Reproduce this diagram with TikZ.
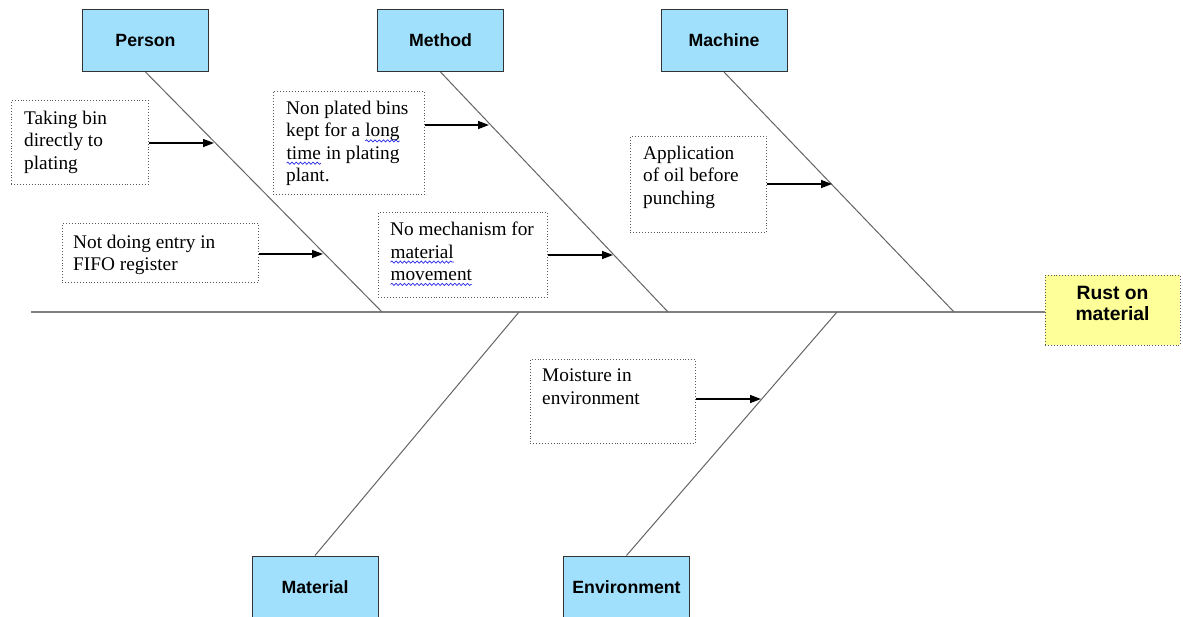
\documentclass[tikz,border=0pt]{standalone}
\usepackage{fontspec}
\setmainfont{Liberation Serif}
\setsansfont{Liberation Sans}
\usetikzlibrary{arrows.meta,calc,decorations.pathmorphing}

\definecolor{catblue}{RGB}{160,224,252}
\definecolor{rustyellow}{RGB}{255,255,153}
\definecolor{bonegray}{RGB}{100,100,100}
\definecolor{spinegray}{RGB}{128,128,128}
\definecolor{squigblue}{RGB}{40,40,230}
\newcommand\sqw[1]{\tikz[baseline=(sqword.base)]{\node[inner sep=0pt,outer sep=0pt] (sqword) {#1};
  \draw[squigblue, line width=0.7pt, decorate, decoration={snake,amplitude=1.1pt,segment length=4.2pt}]
    ([yshift=-4pt]sqword.base west) -- ([yshift=-4pt]sqword.base east);}}

\tikzset{
  catbox/.style={draw=black!80, line width=1pt, fill=catblue, minimum width=126pt,
    minimum height=62pt, inner sep=0pt, font=\sffamily\bfseries\fontsize{17.7}{20}\selectfont},
  causebox/.style={draw=black!65, dotted, line width=0.9pt, anchor=north west, inner sep=0pt},
  causetext/.style={anchor=north west, inner sep=0pt, align=left,
    font=\fontsize{19.3}{22.3}\selectfont},
  bone/.style={draw=bonegray, line width=1pt},
  spineline/.style={draw=spinegray, line width=2.6pt},
  causearrow/.style={draw=black, line width=1.4pt, -{Triangle[length=11pt,width=8pt]}},
}

\begin{document}
\begin{tikzpicture}[x=1pt,y=-1pt]
\useasboundingbox (0,0) rectangle (1183,617);
\fill[white] (0,0) rectangle (1183,617);

% category boxes
\node[catbox] (person) at (145.5,40.5) {Person};
\node[catbox] (method) at (440.5,40.5) {Method};
\node[catbox] (machine) at (724,40.5) {Machine};
\node[catbox] (material) at (315,587) {Material};
\node[catbox] (environment) at (626.5,587) {Environment};

% effect
\node[draw=black!65, dotted, line width=0.9pt, fill=rustyellow, minimum width=135pt,
  minimum height=70pt, inner sep=0pt, align=center, text depth=14pt,
  font=\sffamily\bfseries\fontsize{19.3}{21}\selectfont] (rust) at (1112.5,310) {Rust on\\material};

% spine and junctions
\coordinate (s0) at (31,312);
\coordinate (j1) at (382,312);
\coordinate (j2) at (668,312);
\coordinate (j3) at (954,312);
\coordinate (j4) at (519,312);
\coordinate (j5) at (837,312);
\draw[spineline] (s0) -- (rust.west |- s0);

% bones
\draw[bone] (person.south) -- (j1);
\draw[bone] (method.south) -- (j2);
\draw[bone] (machine.south) -- (j3);
\draw[bone] (material.north) -- (j4);
\draw[bone] (environment.north) -- (j5);

% cause boxes
\node[causebox, minimum width=137pt, minimum height=84pt] (c1) at (11,100) {};
\node[causebox, minimum width=151pt, minimum height=103pt] (c2) at (273,91) {};
\node[causebox, minimum width=196pt, minimum height=59pt] (c3) at (62,223) {};
\node[causebox, minimum width=169pt, minimum height=85pt] (c4) at (378,212) {};
\node[causebox, minimum width=136pt, minimum height=96pt] (c5) at (630,136) {};
\node[causebox, minimum width=165pt, minimum height=84pt] (c6) at (530,359) {};

\node[causetext] (t1) at ([xshift=13pt,yshift=-11pt]c1.north west) {Taking bin\\directly to\\plating};
\node[causetext] (t2) at ([xshift=13pt,yshift=-10pt]c2.north west) {Non plated bins\\kept for a \sqw{long}\\\sqw{time} in plating\\plant.};
\node[causetext] (t3) at ([xshift=11pt,yshift=-12pt]c3.north west) {Not doing entry in\\FIFO register};
\node[causetext] (t4) at ([xshift=12pt,yshift=-10pt]c4.north west) {No mechanism for\\\sqw{material}\\\sqw{movement}};
\node[causetext] (t5) at ([xshift=13pt,yshift=-10pt]c5.north west) {Application\\of oil before\\punching};
\node[causetext] (t6) at ([xshift=12pt,yshift=-10pt]c6.north west) {Moisture in\\environment};

% arrow targets on bones
\coordinate (a1) at (214,143);
\coordinate (a2) at (489,125);
\coordinate (a3) at (323,254);
\coordinate (a4) at (613,255);
\coordinate (a5) at (832,184);
\coordinate (a6) at (761,399);

\draw[causearrow] (c1.east |- a1) -- (a1);
\draw[causearrow] (c2.east |- a2) -- (a2);
\draw[causearrow] (c3.east |- a3) -- (a3);
\draw[causearrow] (c4.east |- a4) -- (a4);
\draw[causearrow] (c5.east |- a5) -- (a5);
\draw[causearrow] (c6.east |- a6) -- (a6);
\end{tikzpicture}
\end{document}
